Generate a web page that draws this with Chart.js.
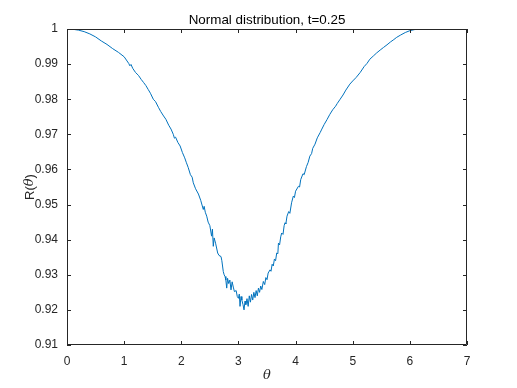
<!DOCTYPE html>
<html lang="en">
<head>
  <meta charset="utf-8">
  <title>Normal distribution, t=0.25</title>
  <script src="https://cdn.jsdelivr.net/npm/chart.js"></script>
  <style>
    body { margin: 0; background: #fff; }
    #wrap { width: 517px; height: 388px; }
  </style>
</head>
<body>
  <div id="wrap"><canvas id="chart" width="517" height="388"></canvas></div>
  <script>
    // values
    const theta = [
      0.00, 0.10, 0.20, 0.30, 0.40, 0.50, 0.60, 0.70, 0.80, 0.90,
      1.00, 1.05, 1.08, 1.10, 1.12, 1.15, 1.20, 1.25, 1.30, 1.34,
      1.38, 1.42, 1.46, 1.51, 1.55, 1.60, 1.64, 1.69, 1.73, 1.78,
      1.82, 1.86, 1.88, 1.90, 1.94, 1.98, 2.02, 2.06, 2.09, 2.12,
      2.16, 2.19, 2.21, 2.25, 2.30, 2.34, 2.385, 2.40, 2.42, 2.445,
      2.47, 2.50, 2.53, 2.545, 2.56, 2.575, 2.60, 2.637, 2.66, 2.695,
      2.71, 2.735, 2.75, 2.765, 2.78, 2.795, 2.81, 2.83, 2.85, 2.87,
      2.89, 2.91, 2.93, 2.96, 2.98, 3.00, 3.015, 3.028, 3.045, 3.06,
      3.08, 3.098, 3.115, 3.13, 3.15, 3.17, 3.19, 3.21, 3.23, 3.25,
      3.27, 3.29, 3.31, 3.33, 3.35, 3.37, 3.39, 3.41, 3.436, 3.46,
      3.48, 3.50, 3.52, 3.553, 3.57, 3.59, 3.61, 3.63, 3.65, 3.67,
      3.69, 3.70, 3.72, 3.74, 3.757, 3.78, 3.80, 3.815, 3.83, 3.85,
      3.88, 3.90, 3.93, 3.96, 3.98, 4.00, 4.05, 4.07, 4.09, 4.13,
      4.15, 4.19, 4.22, 4.25, 4.28, 4.30, 4.34, 4.38, 4.43, 4.46,
      4.50, 4.55, 4.60, 4.65, 4.70, 4.73, 4.78, 4.83, 4.88, 4.95,
      5.00, 5.06, 5.13, 5.20, 5.25, 5.30, 5.36, 5.42, 5.48, 5.54,
      5.60, 5.66, 5.72, 5.77, 5.84, 5.92, 6.00, 6.08, 6.16, 6.22, 6.283
    ];
    const R = [
      1.00000, 0.99992, 0.99968, 0.99925, 0.99860, 0.99775, 0.99660, 0.99560, 0.99440, 0.99335,
      0.99209, 0.99090, 0.99020, 0.98952, 0.98990, 0.98880, 0.98760, 0.98680, 0.98560, 0.98477,
      0.98390, 0.98280, 0.98170, 0.98000, 0.97930, 0.97770, 0.97650, 0.97523, 0.97430, 0.97260,
      0.97150, 0.97000, 0.96890, 0.96920, 0.96770, 0.96667, 0.96480, 0.96330, 0.96190, 0.96060,
      0.95850, 0.95780, 0.95620, 0.95450, 0.95300, 0.95120, 0.94860, 0.94950, 0.94780, 0.94670,
      0.94500, 0.94400, 0.94100, 0.94300, 0.93810, 0.94050, 0.93900, 0.93620, 0.93550, 0.93520,
      0.93400, 0.93090, 0.93000, 0.92950, 0.92850, 0.92620, 0.92900, 0.92750, 0.92850, 0.92570,
      0.92800, 0.92650, 0.92520, 0.92550, 0.92380, 0.92330, 0.92450, 0.92100, 0.92380, 0.92280,
      0.92150, 0.92000, 0.92250, 0.92150, 0.92320, 0.92100, 0.92400, 0.92220, 0.92440, 0.92280,
      0.92500, 0.92350, 0.92550, 0.92400, 0.92620, 0.92500, 0.92680, 0.92580, 0.92810, 0.92720,
      0.92920, 0.92860, 0.93050, 0.93140, 0.93100, 0.93300, 0.93250, 0.93450, 0.93400, 0.93620,
      0.93600, 0.93900, 0.93850, 0.94080, 0.94190, 0.94150, 0.94400, 0.94480, 0.94450, 0.94670,
      0.94800, 0.94750, 0.95050, 0.95240, 0.95200, 0.95380, 0.95520, 0.95500, 0.95710, 0.95880,
      0.95850, 0.96080, 0.96200, 0.96380, 0.96450, 0.96600, 0.96720, 0.96900, 0.97050, 0.97150,
      0.97280, 0.97420, 0.97570, 0.97700, 0.97800, 0.97880, 0.98000, 0.98120, 0.98260, 0.98430,
      0.98520, 0.98620, 0.98760, 0.98930, 0.99020, 0.99140, 0.99230, 0.99320, 0.99400, 0.99476,
      0.99550, 0.99630, 0.99700, 0.99763, 0.99830, 0.99900, 0.99952, 0.99982, 0.99996, 1.00000, 1.00000
    ];
    const xTicks = [0, 1, 2, 3, 4, 5, 6, 7];
    const yTicks = [0.91, 0.92, 0.93, 0.94, 0.95, 0.96, 0.97, 0.98, 0.99, 1];

    const axisColor = '#262626';
    const tickFont = { family: "'Liberation Sans', Arial, sans-serif", size: 12 };

    const points = theta.map((t, i) => ({ x: t, y: R[i] }));

    // box, inward ticks and the labels MATLAB-style
    const framePlugin = {
      id: 'frame',
      afterDraw(chart) {
        const { ctx, chartArea: a, scales } = chart;
        ctx.save();
        ctx.strokeStyle = axisColor;
        ctx.lineWidth = 1;
        ctx.beginPath();
        ctx.rect(a.left + 0.5, a.top + 0.5, a.right - a.left - 1, a.bottom - a.top - 1);
        xTicks.forEach(v => {
          const px = Math.round(scales.x.getPixelForValue(v)) + 0.5;
          ctx.moveTo(px, a.bottom); ctx.lineTo(px, a.bottom - 4);
          ctx.moveTo(px, a.top); ctx.lineTo(px, a.top + 4);
        });
        yTicks.forEach(v => {
          const py = Math.round(scales.y.getPixelForValue(v)) + 0.5;
          ctx.moveTo(a.left, py); ctx.lineTo(a.left + 4, py);
          ctx.moveTo(a.right, py); ctx.lineTo(a.right - 4, py);
        });
        ctx.stroke();

        ctx.fillStyle = '#000';
        ctx.font = "13.4px 'Liberation Sans', Arial, sans-serif";
        ctx.textAlign = 'center';
        ctx.textBaseline = 'middle';
        ctx.fillText('Normal distribution, t=0.25', (a.left + a.right) / 2, 20);

        ctx.fillStyle = axisColor;
        ctx.font = "italic 13px 'DejaVu Serif', serif";
        ctx.fillText('\u03B8', (a.left + a.right) / 2, 376);

        // y label: R(θ) rotated
        ctx.translate(30, (a.top + a.bottom) / 2);
        ctx.rotate(-Math.PI / 2);
        const f1 = "13px 'Liberation Sans', Arial, sans-serif";
        const f2 = "italic 13px 'DejaVu Serif', serif";
        const parts = [['R(', f1], ['\u03B8', f2], [')', f1]];
        let total = 0;
        parts.forEach(p => { ctx.font = p[1]; total += ctx.measureText(p[0]).width; });
        let x = -total / 2;
        ctx.textAlign = 'left';
        parts.forEach(p => {
          ctx.font = p[1];
          ctx.fillText(p[0], x, 0);
          x += ctx.measureText(p[0]).width;
        });
        ctx.restore();
      }
    };

    new Chart(document.getElementById('chart'), {
      type: 'line',
      data: {
        datasets: [{
          data: points,
          borderColor: '#0072BD',
          borderWidth: 1,
          pointRadius: 0,
          tension: 0,
          fill: false
        }]
      },
      options: {
        responsive: false,
        animation: false,
        devicePixelRatio: 1,
        layout: { padding: { top: 29, right: 50, left: 0, bottom: 0 } },
        plugins: { legend: { display: false }, tooltip: { enabled: false } },
        scales: {
          x: {
            type: 'linear',
            min: 0, max: 7,
            grid: { display: false, drawTicks: false },
            border: { display: false },
            afterBuildTicks: s => { s.ticks = xTicks.map(v => ({ value: v })); },
            afterFit: s => { s.height = 43; },
            ticks: { color: axisColor, font: tickFont, padding: 9, maxRotation: 0,
              callback: v => String(v) }
          },
          y: {
            type: 'linear',
            min: 0.91, max: 1,
            grid: { display: false, drawTicks: false },
            border: { display: false },
            afterBuildTicks: s => { s.ticks = yTicks.map(v => ({ value: v })); },
            afterFit: s => { s.width = 67; },
            ticks: { color: axisColor, font: tickFont, padding: 9,
              callback: v => String(+v.toFixed(2)) }
          }
        }
      },
      plugins: [framePlugin]
    });
  </script>
</body>
</html>
